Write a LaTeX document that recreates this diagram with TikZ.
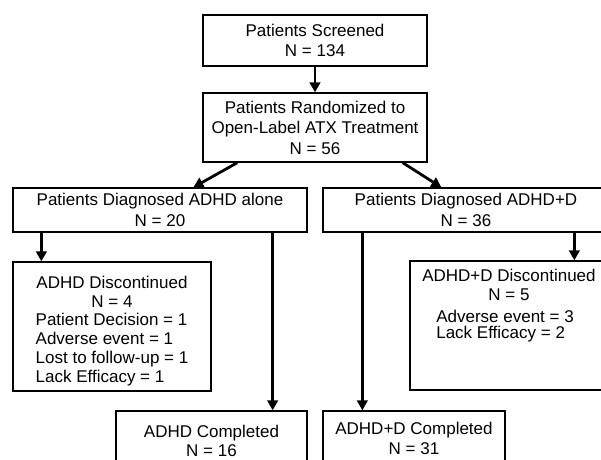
\documentclass[tikz,border=0pt]{standalone}
\usepackage{fontspec}
\setmainfont{Liberation Sans}
\usetikzlibrary{arrows.meta,calc}
\begin{document}
\begin{tikzpicture}[x=1pt,y=-1pt,
  box/.style={draw, line width=1.3pt, rectangle, inner sep=0pt, align=center,
    font=\fontsize{17}{20.5}\selectfont},
  arr/.style={line width=2.8pt, -{Triangle[length=10pt,width=10.5pt]}},
  inlabel/.style={inner sep=0pt, font=\fontsize{17}{19}\selectfont}]
\useasboundingbox (0,0) rectangle (601,459);

\node[box, minimum width=224pt, minimum height=51pt] (b1) at (315,40.5)
  {Patients Screened\\N = 134};
\node[box, minimum width=224pt, minimum height=69pt] (b2) at (315,127.5)
  {Patients Randomized to\\Open-Label ATX Treatment\\N = 56};
\node[box, minimum width=294pt, minimum height=44pt] (b3) at (160,210)
  {Patients Diagnosed ADHD alone\\N = 20};
\node[box, minimum width=286pt, minimum height=44pt] (b4) at (466,210)
  {Patients Diagnosed ADHD+D\\N = 36};
\node[box, minimum width=198pt, minimum height=129pt,
  label={[inlabel, font=\fontsize{17}{18.8}\selectfont, anchor=center, yshift=-5pt]center:{%
    \begin{tabular}{@{}l@{}}
    \multicolumn{1}{@{}c@{}}{ADHD Discontinued}\\
    \multicolumn{1}{@{}c@{}}{N = 4}\\
    Patient Decision = 1\\
    Adverse event = 1\\
    Lost to follow-up = 1\\
    Lack Efficacy = 1
    \end{tabular}}}] (b5) at (112,326.5) {};
\node[box, minimum width=198pt, minimum height=129pt,
  label={[inlabel, anchor=north, yshift=-8pt]north:{%
    \begin{tabular}{@{}l@{}}
    \multicolumn{1}{@{}c@{}}{ADHD+D Discontinued}\\
    \multicolumn{1}{@{}c@{}}{N = 5}\\[3pt]
    \hspace*{14pt}Adverse event = 3\\[-3pt]
    \hspace*{14pt}Lack Efficacy = 2
    \end{tabular}}}] (b6) at (509,325.5) {};
\node[box, minimum width=191pt, minimum height=60pt,
  font=\fontsize{17}{18.5}\selectfont] (b7) at (211.5,441)
  {ADHD Completed\\N = 16};
\node[box, minimum width=182pt, minimum height=55pt] (b8) at (414,438.5)
  {ADHD+D Completed\\N = 31};

\draw[arr] (b1) -- (b2);
\draw[arr] ($(b2.south west)+(35,0)$) -- ($(b3.north west)+(181,0)$);
\draw[arr] ($(b2.south east)+(-25,0)$) -- ($(b4.north west)+(119,0)$);
\draw[arr] ($(b3.south west)+(29,0)$) -- ($(b5.north west)+(29,0)$);
\draw[arr] ($(b3.south east)+(-35,0)$) -- ($(b7.north east)+(-35,0)$);
\draw[arr] ($(b4.south west)+(40,0)$) -- ($(b8.north west)+(40,0)$);
\draw[arr] ($(b4.south west)+(252,0)$) -- ($(b6.north west)+(165,0)$);
\end{tikzpicture}
\end{document}
